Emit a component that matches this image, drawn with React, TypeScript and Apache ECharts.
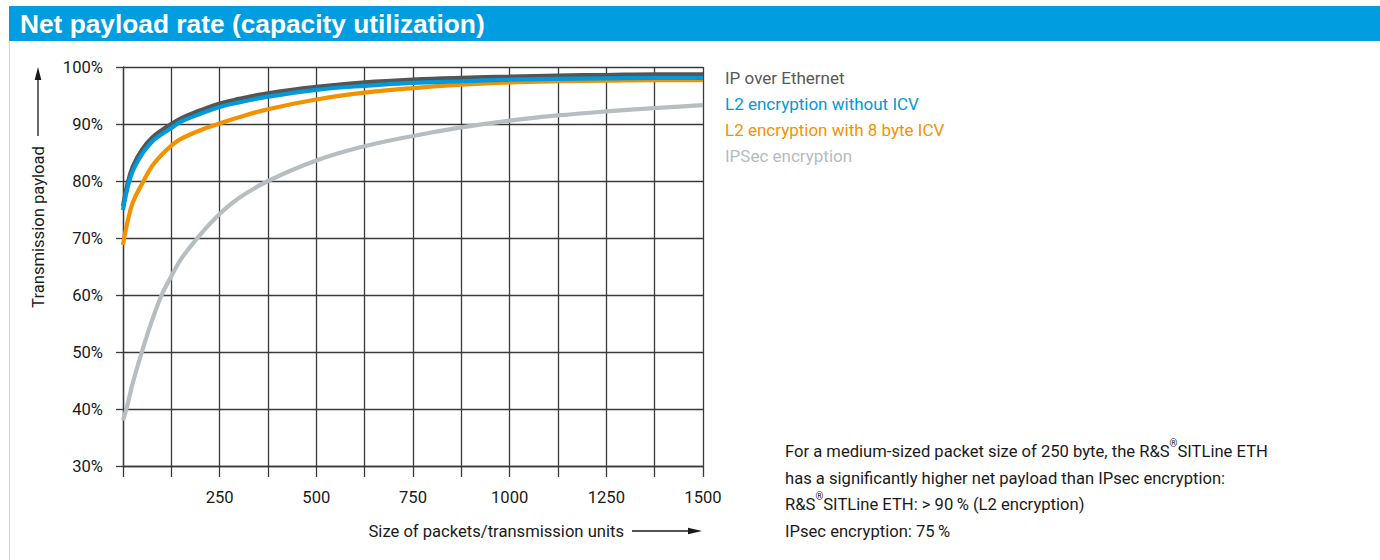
import React, { useEffect, useRef } from "react";
import * as echarts from "echarts";

// ---- data ----
const packetSizes = [0, 10, 25, 50, 75, 100, 125, 150, 200, 250, 300, 375, 500, 625, 750, 875, 1000, 1125, 1250, 1375, 1500];
const ipOverEthernet = [75.6, 79.0, 82.5, 85.6, 87.6, 88.9, 90.0, 91.0, 92.4, 93.6, 94.4, 95.4, 96.5, 97.3, 97.8, 98.1, 98.3, 98.5, 98.6, 98.7, 98.7];
const l2WithoutIcv = [74.9, 78.3, 81.7, 84.8, 86.9, 88.2, 89.3, 90.4, 91.8, 93.0, 93.8, 94.8, 96.0, 96.7, 97.2, 97.5, 97.8, 97.9, 98.0, 98.1, 98.1];
const l2With8ByteIcv = [68.8, 72.3, 76.2, 79.6, 82.6, 84.6, 86.2, 87.4, 88.9, 90.1, 91.2, 92.6, 94.3, 95.5, 96.3, 96.9, 97.3, 97.5, 97.6, 97.7, 97.7];
const ipsecEncryption = [38.0, 40.3, 44.5, 50.3, 55.5, 60.0, 63.3, 66.3, 70.6, 74.2, 77.0, 80.0, 83.6, 86.1, 87.9, 89.4, 90.6, 91.5, 92.2, 92.8, 93.3];

const seriesNames = ["IP over Ethernet", "L2 encryption without ICV", "L2 encryption with 8 byte ICV", "IPSec encryption"];
const seriesColors = ["#555555", "#0099da", "#f39200", "#b6bec2"];
const legendColors = ["#58585a", "#0099da", "#f39200", "#b4bcc1"];
const xTickLabels = [250, 500, 750, 1000, 1250, 1500];
const yTickSuffix = "%";

const titleText = "Net payload rate (capacity utilization)";
const yAxisTitle = "Transmission payload";
const xAxisTitle = "Size of packets/transmission units";
const noteLines = [
  "For a medium-sized packet size of 250 byte, the R&S{sup|®}SITLine ETH",
  "has a significantly higher net payload than IPsec encryption:",
  "R&S{sup|®}SITLine ETH: > 90\u2009% (L2 encryption)",
  "IPsec encryption: 75\u2009%",
];

const FONT = "Roboto, 'Liberation Sans', sans-serif";
const FS = 16.6;
const GRID = "#3a3a3a";
const TEXT = "#1a1a1a";

function toPairs(values: number[]) {
  return packetSizes.map((x, i) => [x, values[i]]);
}

export default function App() {
  const ref = useRef<HTMLDivElement>(null);
  useEffect(() => {
    if (!ref.current) return;
    const chart = echarts.init(ref.current, null, { renderer: "svg" });
    const valuesByName: Record<string, number[]> = {
      [seriesNames[0]]: ipOverEthernet,
      [seriesNames[1]]: l2WithoutIcv,
      [seriesNames[2]]: l2With8ByteIcv,
      [seriesNames[3]]: ipsecEncryption,
    };
    const drawOrder = [3, 2, 0, 1];
    const option: any = {
      animation: false,
      backgroundColor: "#ffffff",
      textStyle: { fontFamily: FONT },
      grid: { left: 123, right: 677, top: 67, bottom: 94, containLabel: false },
      xAxis: {
        type: "value",
        min: 0,
        max: 1500,
        interval: 125,
        axisLine: { show: true, lineStyle: { color: GRID, width: 1.3 } },
        axisTick: { show: true, length: 11, lineStyle: { color: GRID, width: 1.3 } },
        axisLabel: {
          margin: 23,
          fontSize: FS,
          color: TEXT,
          fontFamily: FONT,
          hideOverlap: false,
          formatter: (v: number) => (xTickLabels.includes(v) ? String(v) : ""),
        },
        splitLine: { show: true, lineStyle: { color: GRID, width: 1.3 } },
      },
      yAxis: {
        type: "value",
        min: 30,
        max: 100,
        interval: 10,
        axisLine: { show: true, lineStyle: { color: GRID, width: 1.3 } },
        axisTick: { show: true, length: 7, lineStyle: { color: GRID, width: 1.3 } },
        axisLabel: {
          margin: 20,
          fontSize: FS,
          color: TEXT,
          fontFamily: FONT,
          formatter: (v: number) => `${v}${yTickSuffix}`,
        },
        splitLine: { show: true, lineStyle: { color: GRID, width: 1.3 } },
      },
      legend: {
        orient: "vertical",
        left: 720,
        top: 64.5,
        icon: "none",
        itemWidth: 0,
        itemHeight: 26,
        itemGap: 0,
        selectedMode: false,
        padding: 0,
        textStyle: { fontSize: FS + 0.4, fontFamily: FONT, lineHeight: 26 },
        data: seriesNames.map((name, i) => ({ name, textStyle: { color: legendColors[i] } })),
      },
      series: drawOrder.map((i) => ({
        name: seriesNames[i],
        type: "line",
        data: toPairs(valuesByName[seriesNames[i]]),
        showSymbol: false,
        symbol: "none",
        smooth: 0.4,
        lineStyle: { color: seriesColors[i], width: 4.2, cap: "butt" },
        itemStyle: { color: seriesColors[i] },
        emphasis: { disabled: true },
      })),
      graphic: [
        {
          type: "line",
          shape: { x1: 9.5, y1: 41, x2: 9.5, y2: 560 },
          style: { stroke: "#d6d6d6", lineWidth: 1 },
        },
        {
          type: "rect",
          shape: { x: 9, y: 6, width: 1371, height: 35 },
          style: { fill: "#009ee0" },
        },
        {
          type: "text",
          x: 20,
          y: 24,
          style: {
            text: titleText,
            fill: "#ffffff",
            font: "bold 26.3px 'Liberation Sans', Arial, sans-serif",
            verticalAlign: "middle",
            align: "left",
          },
        },
        {
          type: "text",
          x: 38,
          y: 227,
          rotation: Math.PI / 2,
          style: {
            text: yAxisTitle,
            fill: TEXT,
            fontSize: FS,
            fontFamily: FONT,
            align: "center",
            verticalAlign: "middle",
          },
        },
        {
          type: "line",
          shape: { x1: 38, y1: 136, x2: 38, y2: 76 },
          style: { stroke: TEXT, lineWidth: 1.3 },
        },
        {
          type: "polygon",
          shape: { points: [[38, 67], [34.7, 80], [41.3, 80]] },
          style: { fill: TEXT },
        },
        {
          type: "text",
          x: 624,
          y: 531,
          style: {
            text: xAxisTitle,
            fill: TEXT,
            fontSize: FS,
            fontFamily: FONT,
            align: "right",
            verticalAlign: "middle",
          },
        },
        {
          type: "line",
          shape: { x1: 632, y1: 531, x2: 692, y2: 531 },
          style: { stroke: TEXT, lineWidth: 1.3 },
        },
        {
          type: "polygon",
          shape: { points: [[702, 531], [688, 527.8], [688, 534.2]] },
          style: { fill: TEXT },
        },
        {
          type: "text",
          x: 785,
          y: 438.3,
          style: {
            text: noteLines.join("\n"),
            fill: TEXT,
            fontSize: FS,
            fontFamily: FONT,
            lineHeight: 26.5,
            align: "left",
            verticalAlign: "top",
            rich: {
              sup: { fontSize: 10, fontFamily: FONT, fill: TEXT, lineHeight: 26.5, verticalAlign: "top" },
            },
          },
        },
      ],
    };
    chart.setOption(option);
    return () => chart.dispose();
  }, []);
  return (
    <div
      ref={ref}
      style={{ position: "fixed", left: 0, top: 0, width: 1380, height: 560, background: "#fff" }}
    />
  );
}
